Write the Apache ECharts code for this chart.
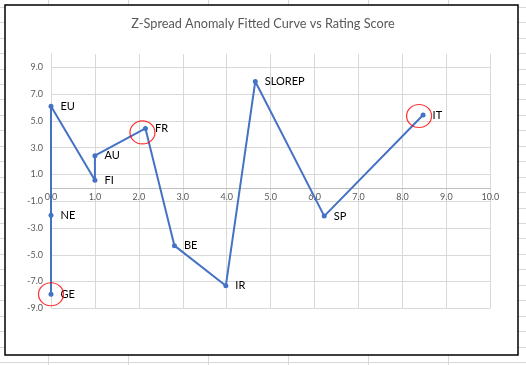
<!DOCTYPE html>
<html>
<head>
<meta charset="utf-8">
<script src="https://cdn.jsdelivr.net/npm/echarts@6/dist/echarts.min.js"></script>
<style>
html,body{margin:0;padding:0;background:#fff;}
#chart{width:526px;height:365px;}
</style>
</head>
<body>
<div id="chart"></div>
<script>
// Data
var names = ['GE','NE','EU','FI','AU','FR','BE','IR','SLOREP','SP','IT'];
var ratingScore = [0, 0, 0, 1.0, 1.0, 2.15, 2.81, 3.98, 4.65, 6.22, 8.47];
var zSpreadAnomaly = [-7.95, -2.05, 6.09, 0.56, 2.40, 4.44, -4.32, -7.31, 7.95, -2.11, 5.44];
var highlighted = ['FR', 'IT', 'GE'];
var xTicks = [0,1,2,3,4,5,6,7,8,9,10];
var yTicks = [-9,-7,-5,-3,-1,1,3,5,7,9];
var yMax = 10;

var lineData = names.map(function (n, i) {
  return { name: n, value: [ratingScore[i], zSpreadAnomaly[i]] };
});
var circleOffsets = { FR: [-3, 4], IT: [-4, 1], GE: [0, 0] };
var circleData = highlighted.map(function (n) {
  var i = names.indexOf(n);
  return { name: n, value: [ratingScore[i], zSpreadAnomaly[i]], symbolOffset: circleOffsets[n] };
});

// spreadsheet background decoration
var bg = [];
for (var k = 0; k < 24; k++) {
  var yy = Math.round(6.7 + 15.45 * k) + 0.5;
  bg.push({ type: 'line', z: -20, shape: { x1: 0, y1: yy, x2: 526, y2: yy }, style: { stroke: '#d9d9d9', lineWidth: 1 } });
}
[48, 128, 208, 288, 368, 448].forEach(function (xx) {
  bg.push({ type: 'line', z: -20, shape: { x1: xx + 0.5, y1: 0, x2: xx + 0.5, y2: 365 }, style: { stroke: '#d9d9d9', lineWidth: 1 } });
});
bg.push({ type: 'rect', z: -10, shape: { x: 5, y: 5, width: 513, height: 350 }, style: { fill: '#fff', stroke: '#000', lineWidth: 1.5 } });

var gridTop = 54, gridBottom = 56.7, chartH = 365;
var plotH = chartH - gridTop - gridBottom;
// distance from plot bottom up to the y = 0 line, so the x axis sits on zero
var zeroOffset = plotH * (0 - yTicks[0]) / (yMax - yTicks[0]);

var chart = echarts.init(document.getElementById('chart'), null, { renderer: 'canvas' });
var gridColors = yTicks.map(function () { return '#d9d9d9'; }).concat(['rgba(0,0,0,0)']);
chart.setOption({
  animation: false,
  backgroundColor: '#fff',
  graphic: bg,
  title: {
    text: 'Z-Spread Anomaly Fitted Curve vs Rating Score',
    left: 'center',
    top: 12,
    textStyle: { fontFamily: 'Lato', fontSize: 12.7, fontWeight: 'normal', color: '#595959' }
  },
  grid: { left: 51, right: 35.7, top: gridTop, bottom: gridBottom, containLabel: false },
  xAxis: {
    type: 'value',
    min: xTicks[0], max: xTicks[xTicks.length - 1], interval: 1,
    offset: -zeroOffset,
    axisLine: { show: true, onZero: false, lineStyle: { color: '#bfbfbf', width: 1 } },
    axisTick: { show: false },
    axisLabel: { margin: 5, fontFamily: 'Lato', fontSize: 9, color: '#595959', formatter: function (v) { return v.toFixed(1); } },
    splitLine: { show: true, lineStyle: { color: '#d9d9d9', width: 1 } }
  },
  yAxis: {
    type: 'value',
    min: yTicks[0], max: yMax, interval: 2,
    axisLine: { show: true, onZero: false, lineStyle: { color: '#d9d9d9', width: 1 } },
    axisTick: { show: false },
    axisLabel: { margin: 8, fontFamily: 'Lato', fontSize: 9, color: '#595959', showMaxLabel: false,
      formatter: function (v) { return yTicks.indexOf(v) >= 0 ? v.toFixed(1) : ''; } },
    splitLine: { show: true, lineStyle: { color: gridColors, width: 1 } }
  },
  series: [
    {
      type: 'line',
      data: lineData,
      symbol: 'circle',
      symbolSize: 5,
      itemStyle: { color: '#4472c4' },
      lineStyle: { color: '#4472c4', width: 2 },
      label: {
        show: true, position: 'right', distance: 7,
        fontFamily: 'Lato', fontSize: 11, color: '#000',
        formatter: function (p) { return p.name; }
      },
      z: 3
    },
    {
      type: 'scatter',
      data: circleData,
      symbol: 'circle',
      symbolSize: [25, 23],
      itemStyle: { color: 'rgba(0,0,0,0)', borderColor: '#ff0000', borderWidth: 1.2 },
      silent: true,
      z: 4
    }
  ]
});
</script>
</body>
</html>
